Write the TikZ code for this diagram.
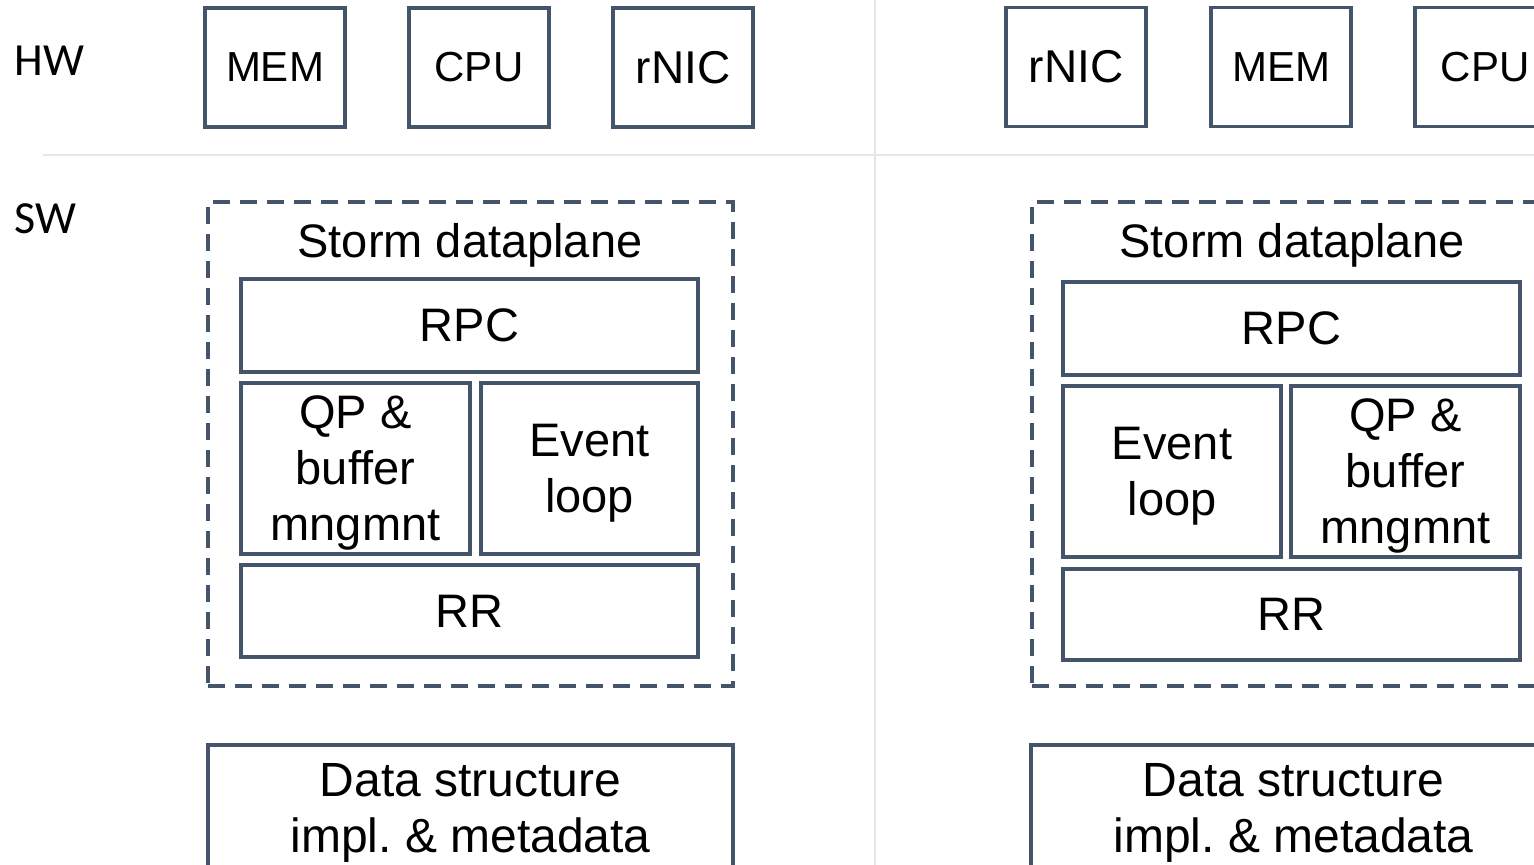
\documentclass[tikz,border=0pt]{standalone}
\usepackage{fontspec}
\setmainfont{Liberation Sans}
\newfontfamily\layerfont{Carlito}
\definecolor{frame}{HTML}{44546A}
\definecolor{rule}{HTML}{E7E6E6}
\frenchspacing
\begin{document}
\begin{tikzpicture}[x=0.5pt,y=-0.5pt,
  box/.style={draw=frame, line width=1.7pt, inner sep=0pt, align=center,
    text=black, font=\fontsize{23.5}{28}\selectfont},
  hwbox/.style={box, minimum width=70pt, minimum height=59.5pt,
    font=\fontsize{21}{25}\selectfont},
  plane/.style={draw=frame, line width=1.6pt, dash pattern=on 8.5pt off 5pt,
    minimum width=262.5pt, minimum height=242pt, inner sep=0pt},
  wide/.style={box, minimum width=228.5pt},
  drop/.style={text depth=#1},
  layer/.style={anchor=west, inner sep=0pt, font=\layerfont\fontsize{23}{27}\selectfont},
  title/.style={inner sep=0pt, font=\fontsize{23.5}{28}\selectfont, text depth=1pt}
]
\useasboundingbox (0,0) rectangle (1534,865);
\clip (0,0) rectangle (1534,865);

% separators between hardware/software and the two machines
\coordinate (hl) at (43,155);
\coordinate (hr) at (1534,155);
\coordinate (vt) at (875,0);
\coordinate (vb) at (875,865);
\draw[rule, line width=1pt] (hl) -- (hr);
\draw[rule, line width=1pt] (vt) -- (vb);

% layer labels
\node[layer] (hw) at (14,61) {HW};
\node[layer] (sw) at (14,219) {SW};

% left machine: hardware
\node[hwbox] (memL) at (275,67.5) {MEM};
\node[hwbox] (cpuL) at (479,67.5) {CPU};
\node[hwbox, font=\fontsize{23}{27}\selectfont] (nicL) at (683,67.5) {rNIC};

% left machine: software
\node[plane] (planeL) at (470.5,444) {};
\node[title] (titleL) at (470,241) {Storm dataplane};
\node[wide, minimum height=46.5pt] (rpcL) at (469.5,325.5) {RPC};
\node[box, drop=0pt, minimum width=114.5pt, minimum height=85.5pt] (qpL) at (355.5,468.5) {QP \&\\buffer\\mngmnt};
\node[box, drop=-1.2pt, minimum width=108.5pt, minimum height=85.5pt] (evL) at (589.5,468.5) {Event\\loop};
\node[wide, minimum height=46pt] (rrL) at (469.5,611) {RR};
\node[box, drop=-5pt, minimum width=262.5pt, minimum height=63pt,
  font=\fontsize{24}{28}\selectfont] (dsL) at (470.5,808) {Data structure\\impl. \& metadata};

% right machine: hardware
\node[hwbox, font=\fontsize{23}{27}\selectfont] (nicR) at (1076,67) {rNIC};
\node[hwbox] (memR) at (1281,67) {MEM};
\node[hwbox] (cpuR) at (1485,67) {CPU};

% right machine: software
\node[plane] (planeR) at (1294.5,444) {};
\node[title] (titleR) at (1292,241) {Storm dataplane};
\node[wide, minimum height=46.5pt] (rpcR) at (1291.5,328.5) {RPC};
\node[box, drop=-1.5pt, minimum width=109pt, minimum height=85.5pt] (evR) at (1172,471.5) {Event\\loop};
\node[box, drop=0pt, minimum width=114.5pt, minimum height=85.5pt] (qpR) at (1405.5,471.5) {QP \&\\buffer\\mngmnt};
\node[wide, minimum height=45.5pt] (rrR) at (1291.5,614.5) {RR};
\node[box, drop=-5pt, minimum width=262.5pt, minimum height=63pt,
  font=\fontsize{24}{28}\selectfont] (dsR) at (1293.5,808) {Data structure\\impl. \& metadata};
\end{tikzpicture}
\end{document}
